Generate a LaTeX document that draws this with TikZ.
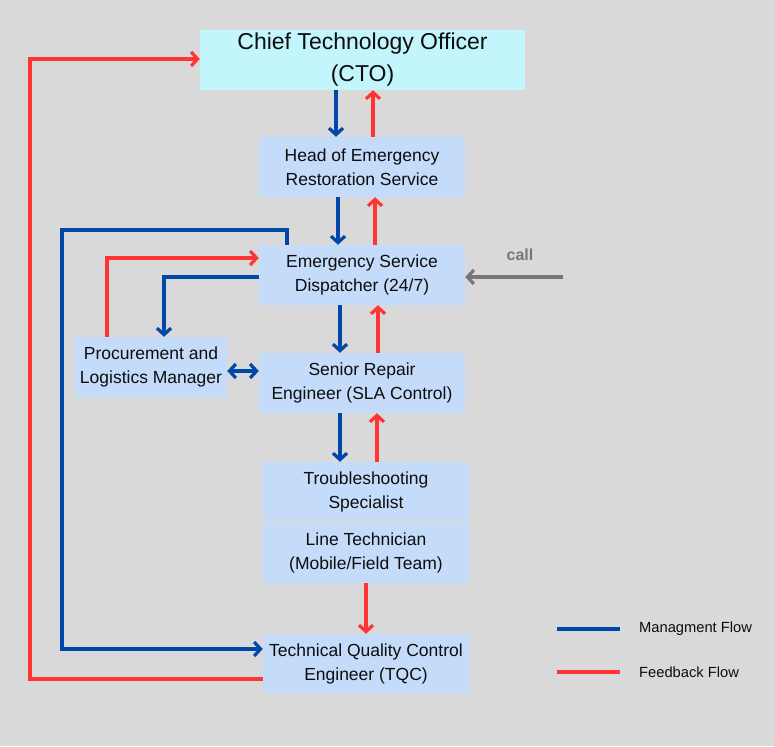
\documentclass[tikz,border=0pt]{standalone}
\usepackage{fontspec}
\setmainfont{Liberation Sans}
\usetikzlibrary{arrows.meta,positioning}
\definecolor{bgcol}{HTML}{D9D9D9}
\definecolor{boxcol}{HTML}{C4DCFA}
\definecolor{ctocol}{HTML}{C2F5FC}
\definecolor{mgmtblue}{HTML}{0047AB}
\definecolor{fbred}{HTML}{FF3535}
\definecolor{callgray}{HTML}{777777}

\begin{document}
\begin{tikzpicture}[
  x=1pt, y=-1pt,
  >={Straight Barb[length=6.5pt,width=14pt]},
  role/.style={fill=boxcol, text=black!95, align=center, inner sep=0pt, minimum width=206pt, minimum height=60pt, font=\fontsize{17.5}{24}\selectfont},
  chief/.style={role, fill=ctocol, minimum width=325pt, font=\fontsize{23}{32}\selectfont},
  mgmt/.style={->, line width=3.2pt, mgmtblue},
  fb/.style={->, line width=3.2pt, fbred},
  both/.style={<->, line width=3.2pt, mgmtblue},
  callline/.style={->, line width=3.2pt, callgray},
  legline/.style={line width=3.2pt},
  legtext/.style={anchor=west, inner sep=0pt, text=black!95, font=\fontsize{14.7}{17}\selectfont}
]
\fill[bgcol] (0,0) rectangle (775,746);
\useasboundingbox (0,0) rectangle (775,746);

\node[chief] (cto) at (362.5,60) {Chief Technology Officer\\(CTO)};
\node[role] (head) at (362,167) {Head of Emergency\\Restoration Service};
\node[role] (disp) at (362,275) {Emergency Service\\Dispatcher (24/7)};
\node[role] (senior) at (362,383) {Senior Repair\\Engineer (SLA Control)};
\node[role, minimum height=59pt] (trouble) at (366,491.5) {Troubleshooting\\Specialist};
\node[role] (linetech) at (366,553) {Line Technician\\(Mobile/Field Team)};
\node[role, minimum height=59pt] (tqc) at (366,663.5) {Technical Quality Control\\Engineer (TQC)};
\node[role, minimum width=152pt] (proc) at (151,367) {Procurement and\\Logistics Manager};

\coordinate (callsrc) at (563,277);
\node[font=\fontsize{16}{19}\selectfont\bfseries, text=callgray] (calltext) at (520,255) {call};

\coordinate (mloop) at (62,230);
\coordinate (floop) at (30,59);

\draw[mgmt] ([xshift=-26.5pt]cto.south) -- ([xshift=-26.5pt]cto.south |- head.north);
\draw[fb] ([xshift=11pt]head.north) -- ([xshift=11pt]head.north |- cto.south);
\draw[mgmt] ([xshift=-24pt]head.south) -- ([xshift=-24pt]disp.north);
\draw[fb] ([xshift=13pt]disp.north) -- ([xshift=13pt]head.south);
\draw[mgmt] ([xshift=-22pt]disp.south) -- ([xshift=-22pt]senior.north);
\draw[fb] ([xshift=16pt]senior.north) -- ([xshift=16pt]disp.south);
\draw[mgmt] ([xshift=-22pt]senior.south) -- ([xshift=-22pt]senior.south |- trouble.north);
\draw[fb] ([xshift=11pt]trouble.north) -- ([xshift=11pt]trouble.north |- senior.south);
\draw[fb] (linetech) -- (tqc);

\draw[callline] (callsrc) -- (callsrc -| disp.east);

\draw[mgmt] ([yshift=-2pt]disp.west) -| ([xshift=13pt]proc.north);
\draw[fb] ([xshift=-44pt]proc.north) |- ([yshift=17pt]disp.west);
\draw[both] ([yshift=-4pt]proc.east) -- ([yshift=-4pt]proc.east -| senior.west);

\draw[mgmt] ([xshift=-75pt]disp.north) |- (mloop) |- ([yshift=14.5pt]tqc.west);
\draw[fb] ([yshift=-15.5pt]tqc.west) -| (floop) |- ([yshift=1pt]cto.west);

\coordinate (mleg) at (557,629);
\coordinate (fleg) at (557,672);
\draw[legline, mgmtblue] (mleg) -- ++(63,0) coordinate (mlegend);
\draw[legline, fbred] (fleg) -- ++(63,0) coordinate (flegend);
\node[legtext] (mlabel) at ([xshift=19pt]mlegend) {Managment Flow};
\node[legtext] (flabel) at ([xshift=19pt]flegend) {Feedback Flow};
\end{tikzpicture}
\end{document}
